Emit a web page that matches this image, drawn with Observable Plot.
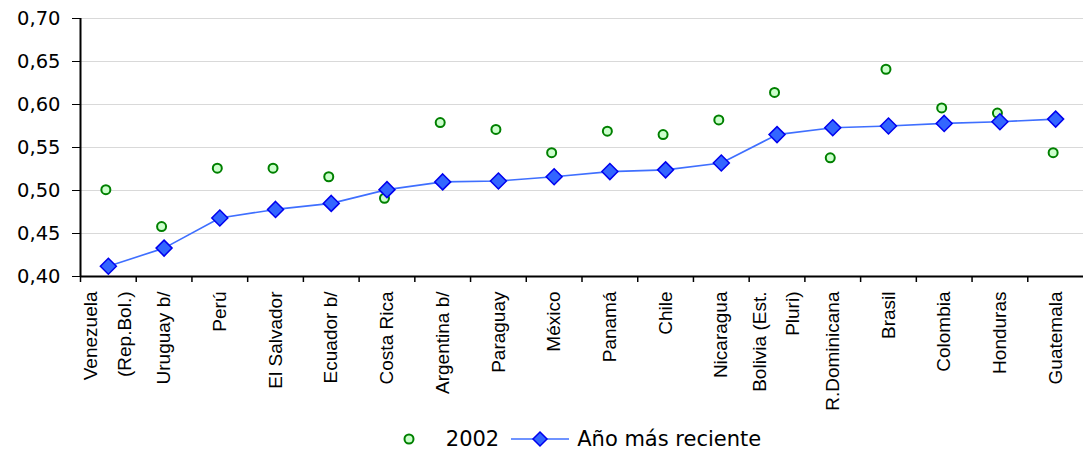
<!DOCTYPE html>
<html>
<head>
<meta charset="utf-8">
<script src="https://cdn.jsdelivr.net/npm/d3@7"></script>
<script src="https://cdn.jsdelivr.net/npm/@observablehq/plot@0.6"></script>
<style>
  html, body { margin: 0; padding: 0; background: #fff; }
  #wrap { position: relative; width: 1083px; height: 450px; }
  #legend { position: absolute; left: 80px; right: 0; top: 428px; height: 22px; line-height: 22px;
    display: flex; justify-content: center; align-items: center;
    font-family: "DejaVu Sans", sans-serif; font-size: 21px; color: #000; white-space: nowrap; }
  #legend svg { display: block; }
</style>
</head>
<body>
<div id="wrap">
  <div id="chart"></div>
  <div id="legend"></div>
</div>
<script>
const countries = ["Venezuela\n(Rep.Bol.)", "Uruguay b/", "Perú", "El Salvador", "Ecuador b/", "Costa Rica",
  "Argentina b/", "Paraguay", "México", "Panamá", "Chile", "Nicaragua", "Bolivia (Est.\nPluri)",
  "R.Dominicana", "Brasil", "Colombia", "Honduras", "Guatemala"];
const v2002 = [0.501, 0.458, 0.526, 0.526, 0.516, 0.491, 0.579, 0.571, 0.544, 0.569, 0.565, 0.582,
  0.614, 0.538, 0.641, 0.596, 0.590, 0.544];
const vRecent = [0.412, 0.433, 0.468, 0.478, 0.485, 0.501, 0.510, 0.511, 0.516, 0.522, 0.524, 0.532,
  0.565, 0.573, 0.575, 0.578, 0.580, 0.583];
const yTicks = [0.40, 0.45, 0.50, 0.55, 0.60, 0.65, 0.70];
const seriesNames = ["2002", "Año más reciente"];

const data = countries.map((c, i) => ({country: c, a: v2002[i], b: vRecent[i]}));

const W = 1083, H = 428, ML = 80, MR = 0, MT = 18, MB = 152;
const bw = (W - ML - MR) / countries.length;
const fmt = d3.formatLocale({decimal: ",", thousands: ".", grouping: [3], currency: ["", ""]}).format(".2f");

const lineColor = "#3f6fff";
const diamondFill = "#3366ff", diamondStroke = "#0000ee";
const circleFill = "#ccffcc", circleStroke = "#008000";
const labelFont = {rotate: -90, textAnchor: "end", lineAnchor: "middle", fontFamily: "Liberation Sans, Arial, sans-serif", fontSize: 19, fill: "#000"};

const chart = Plot.plot({
  width: W, height: H,
  marginLeft: ML, marginRight: MR, marginTop: MT, marginBottom: MB,
  style: {fontFamily: "DejaVu Sans, sans-serif", fontSize: "19px", color: "#000", background: "#fff", overflow: "visible"},
  x: {type: "band", domain: countries, padding: 0, round: false, axis: null},
  y: {domain: [0.40, 0.70]},
  marks: [
    Plot.gridY(yTicks.slice(1), {stroke: "#d9d9d9", strokeOpacity: 1, strokeWidth: 1}),
    Plot.axisY({ticks: yTicks, tickFormat: fmt, tickSize: 8, tickPadding: 12, fontSize: 19.5, label: null}),
    // category labels (single line)
    Plot.text(countries, {filter: d => !d.includes("\n"), x: d => d, y: 0.40, dy: 15, lineHeight: 1, ...labelFont}),
    // category labels (two lines)
    Plot.text(countries, {filter: d => d.includes("\n"), x: d => d, y: 0.40, dy: 15, dx: -5, lineHeight: 1.75, ...labelFont}),
    // category boundary ticks
    Plot.ruleX(countries, {x: d => d, dx: -bw / 2, y1: 0.40, y2: 0.40, insetBottom: -6, stroke: "#000", strokeWidth: 1.5}),
    // y axis line
    Plot.ruleX([countries[0]], {dx: -bw / 2, stroke: "#000", strokeWidth: 2}),
    // x axis line
    Plot.ruleY([0.40], {stroke: "#000", strokeWidth: 2}),
    Plot.dot(data, {x: "country", y: "a", r: 4.5, dx: -2.5, fill: circleFill, stroke: circleStroke, strokeWidth: 2}),
    Plot.line(data, {x: "country", y: "b", stroke: lineColor, strokeWidth: 1.6}),
    Plot.dot(data, {x: "country", y: "b", symbol: "diamond2", r: 7.2, fill: diamondFill, stroke: diamondStroke, strokeWidth: 1.5})
  ]
});
document.getElementById("chart").appendChild(chart);

// legend
const legend = document.getElementById("legend");
function mk(html) { const s = document.createElement("span"); s.innerHTML = html; return s; }
legend.appendChild(mk(`<svg width="14" height="14"><circle cx="7" cy="7" r="4.5" fill="${circleFill}" stroke="${circleStroke}" stroke-width="2"/></svg>`));
const t1 = mk(seriesNames[0]); t1.style.margin = "0 12px 0 30px"; legend.appendChild(t1);
legend.appendChild(mk(`<svg width="58" height="18"><line x1="0" x2="58" y1="9" y2="9" stroke="${lineColor}" stroke-width="1.6"/><path d="M29,2 L36,9 L29,16 L22,9 Z" fill="${diamondFill}" stroke="${diamondStroke}" stroke-width="1.5"/></svg>`));
const t2 = mk(seriesNames[1]); t2.style.marginLeft = "8px"; legend.appendChild(t2);
</script>
</body>
</html>
